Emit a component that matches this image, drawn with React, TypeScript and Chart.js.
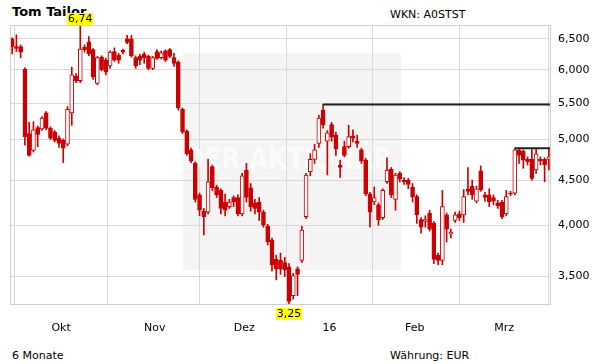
import React, { useEffect, useRef } from 'react';
import { Chart, registerables } from 'chart.js';
Chart.register(...registerables);

// Trading-day candles (Sep 15, 2015 .. Mar 15, 2016), values in EUR
const opens = [
  6.50, 6.37, 6.37, 6.01, 5.08, 4.86, 5.16, 5.14, 5.36, 5.15,
  5.10, 5.02, 4.99, 4.94, 5.36, 5.90, 5.83, 6.36, 6.45, 6.32,
  5.79, 6.20, 6.15, 6.06, 6.29, 6.23, 6.31, 6.50, 6.50, 6.19,
  6.21, 6.25, 6.21, 6.02, 6.29, 6.19, 6.30, 6.32, 6.19, 6.12,
  5.41, 5.11, 4.87, 4.70, 4.33, 4.15, 4.14, 4.66, 4.42, 4.38,
  4.25, 4.20, 4.30, 4.30, 4.12, 4.62, 4.41, 4.24, 4.25, 4.14,
  3.99, 3.85, 3.66, 3.65, 3.63, 3.59, 3.33, 3.57, 3.65, 4.09,
  4.60, 4.75, 4.95, 5.40, 4.98, 5.20, 5.06, 4.68, 4.91, 4.91,
  5.05, 4.98, 4.87, 4.74, 4.34, 4.25, 4.22, 4.08, 4.48, 4.63,
  4.28, 4.58, 4.50, 4.50, 4.42, 4.31, 4.06, 4.04, 4.13, 4.02,
  3.70, 3.65, 4.11, 3.91, 4.05, 4.12, 4.11, 4.40, 4.43, 4.26,
  4.61, 4.33, 4.33, 4.30, 4.24, 4.25, 4.12, 4.35, 4.35, 4.87,
  4.85, 4.75, 4.75, 4.62, 4.75, 4.75, 4.75,
];
const highs = [
  6.52, 6.57, 6.40, 6.03, 5.23, 5.24, 5.18, 5.31, 5.38, 5.17,
  5.12, 5.05, 5.01, 5.45, 6.04, 5.94, 6.74, 6.40, 6.54, 6.34,
  6.21, 6.22, 6.18, 6.30, 6.35, 6.26, 6.33, 6.56, 6.56, 6.22,
  6.25, 6.28, 6.23, 6.21, 6.32, 6.30, 6.32, 6.34, 6.26, 6.14,
  5.43, 5.13, 4.89, 4.72, 4.35, 4.18, 4.75, 4.68, 4.44, 4.40,
  4.34, 4.28, 4.32, 4.33, 4.58, 4.70, 4.46, 4.28, 4.30, 4.16,
  4.01, 3.87, 3.70, 3.72, 3.68, 3.62, 3.53, 3.59, 3.99, 4.58,
  4.82, 4.94, 5.33, 5.48, 5.12, 5.23, 5.10, 4.74, 4.98, 5.19,
  5.13, 5.06, 4.89, 4.76, 4.36, 4.42, 4.24, 4.40, 4.77, 4.65,
  4.58, 4.60, 4.53, 4.52, 4.46, 4.33, 4.08, 4.10, 4.16, 4.04,
  3.72, 4.38, 4.13, 3.96, 4.14, 4.15, 4.39, 4.65, 4.50, 4.43,
  4.67, 4.36, 4.40, 4.33, 4.27, 4.27, 4.38, 4.37, 4.89, 4.89,
  4.87, 4.78, 4.89, 4.89, 4.78, 4.77, 4.89,
];
const lows = [
  6.25, 6.29, 6.19, 4.93, 4.79, 4.84, 4.91, 5.12, 5.13, 5.00,
  4.97, 4.90, 4.71, 4.92, 5.19, 5.80, 5.80, 6.28, 6.22, 5.85,
  5.77, 5.98, 5.92, 6.02, 6.13, 6.10, 6.25, 6.42, 6.20, 6.02,
  6.08, 6.10, 6.00, 6.00, 6.16, 6.17, 6.13, 6.19, 6.05, 5.40,
  5.08, 4.80, 4.71, 4.25, 4.10, 3.90, 4.12, 4.38, 4.30, 4.12,
  4.10, 4.18, 4.20, 4.10, 4.10, 4.25, 4.15, 4.12, 4.05, 3.98,
  3.80, 3.55, 3.47, 3.52, 3.50, 3.25, 3.30, 3.33, 3.63, 4.07,
  4.55, 4.70, 4.90, 5.15, 4.56, 4.98, 4.80, 4.53, 4.78, 4.89,
  4.97, 4.90, 4.70, 4.32, 3.98, 4.22, 4.00, 4.06, 4.46, 4.30,
  4.16, 4.48, 4.45, 4.40, 4.25, 4.02, 3.92, 3.98, 3.94, 3.62,
  3.61, 3.61, 3.83, 3.87, 4.03, 4.05, 4.03, 4.33, 4.28, 4.24,
  4.37, 4.26, 4.20, 4.22, 4.18, 4.07, 4.10, 4.32, 4.33, 4.70,
  4.64, 4.68, 4.50, 4.58, 4.68, 4.48, 4.62,
];
const closes = [
  6.37, 6.34, 6.28, 5.04, 4.80, 5.13, 5.07, 5.29, 5.15, 5.02,
  4.99, 4.95, 4.89, 5.41, 5.92, 5.83, 6.33, 6.32, 6.25, 5.89,
  6.19, 6.00, 5.96, 6.28, 6.15, 6.15, 6.28, 6.44, 6.22, 6.06,
  6.15, 6.19, 6.02, 6.19, 6.18, 6.27, 6.15, 6.21, 6.10, 5.43,
  5.10, 4.82, 4.73, 4.28, 4.16, 4.09, 4.48, 4.41, 4.33, 4.18,
  4.16, 4.25, 4.25, 4.12, 4.55, 4.30, 4.20, 4.18, 4.14, 4.00,
  3.83, 3.61, 3.57, 3.57, 3.56, 3.28, 3.51, 3.52, 3.95, 4.56,
  4.75, 4.87, 5.29, 5.20, 5.09, 5.04, 4.88, 4.65, 4.80, 5.04,
  5.02, 4.95, 4.73, 4.34, 4.14, 4.30, 4.06, 4.38, 4.62, 4.33,
  4.56, 4.51, 4.48, 4.45, 4.31, 4.11, 3.98, 4.06, 3.96, 3.66,
  3.65, 4.20, 3.96, 3.93, 4.11, 4.08, 4.31, 4.37, 4.33, 4.40,
  4.39, 4.30, 4.25, 4.26, 4.21, 4.09, 4.31, 4.34, 4.87, 4.80,
  4.74, 4.72, 4.52, 4.82, 4.73, 4.68, 4.78,
];

const monthStartIdx = [12, 34, 55, 75, 95, 116];
const monthLabels = ['Okt', 'Nov', 'Dez', '16', 'Feb', 'Mrz'];
const yTickValues = [3.5, 4, 4.5, 5, 5.5, 6, 6.5];
const resistLevels = [5.48, 4.89];
const resistStartIdx = [73, 118];

const RED = '#cc0000';
const FONT = "'DejaVu Sans', Verdana, sans-serif";

export default function App() {
  const ref = useRef<HTMLCanvasElement>(null);

  useEffect(() => {
    document.body.style.margin = '0';
    const canvas = ref.current;
    if (!canvas) return;
    const n = opens.length;
    const ids = opens.map((_, i) => i);
    const xMin = -0.5;
    const xMax = n - 0.5;
    const yMin = Math.min(...lows);
    const yMax = Math.max(...highs);
    const rising = (i: number) => closes[i] >= opens[i];

    const bodies = ids.map((i) => ({ x: i, y: [opens[i], closes[i]] }));
    const wicks = ids.map((i) => ({ x: i, y: [lows[i], highs[i]] }));

    const lineSets = resistLevels.map((lv, k) => ({
      type: 'line' as const,
      data: [
        { x: resistStartIdx[k], y: lv },
        { x: xMax, y: lv },
      ],
      borderColor: '#222222',
      borderWidth: 2,
      pointRadius: 0,
      fill: false,
      order: -1,
    }));

    const backdrop = {
      id: 'backdrop',
      beforeDraw(chart: any) {
        const { ctx, chartArea: a } = chart;
        const w = a.right - a.left;
        const h = a.bottom - a.top;
        ctx.save();
        ctx.fillStyle = '#f4f4f4';
        ctx.fillRect(a.left + 0.32 * w, a.top + 0.1 * h, 0.403 * w, 0.775 * h);
        ctx.restore();
      },
      beforeDatasetsDraw(chart: any) {
        const { ctx, chartArea: a } = chart;
        const w = a.right - a.left;
        const h = a.bottom - a.top;
        ctx.save();
        ctx.fillStyle = 'rgba(255,255,255,0.6)';
        ctx.font = `bold 30px ${FONT}`;
        const txt = 'DER AKTIONÄR';
        const tw = ctx.measureText(txt).width;
        const target = 0.385 * w;
        ctx.translate(a.left + 0.322 * w, a.top + 0.485 * h);
        ctx.scale(target / tw, 1);
        ctx.textBaseline = 'middle';
        ctx.fillText(txt, 0, 0);
        ctx.restore();
      },
      afterDatasetsDraw(chart: any) {
        const { ctx, chartArea: a, scales } = chart;
        ctx.save();
        ctx.strokeStyle = '#cfcfcf';
        ctx.lineWidth = 1;
        ctx.strokeRect(a.left + 0.5, a.top + 0.5, a.right - a.left - 1, a.bottom - a.top - 1);
        ctx.font = `11px ${FONT}`;
        ctx.textAlign = 'center';
        ctx.textBaseline = 'middle';
        const iMax = highs.indexOf(yMax);
        const iMin = lows.indexOf(yMin);
        const fmt = (v: number) => v.toFixed(2).replace('.', ',');
        const drawLabel = (i: number, v: number, above: boolean) => {
          const x = scales.x.getPixelForValue(i);
          const y = scales.y.getPixelForValue(v);
          const t = fmt(v);
          const bw = Math.round(ctx.measureText(t).width) + 2;
          const bh = 12;
          const top = above ? y - bh : y + 3;
          ctx.fillStyle = '#ffff00';
          ctx.fillRect(Math.round(x - bw / 2), Math.round(top), bw, bh);
          ctx.fillStyle = '#000';
          ctx.fillText(t, x, top + bh / 2 + 0.5);
        };
        drawLabel(iMax, yMax, true);
        drawLabel(iMin, yMin, false);
        ctx.restore();
      },
    };

    const chart = new Chart(canvas, {
      type: 'bar',
      data: {
        datasets: [
          {
            type: 'bar',
            data: bodies as any,
            barThickness: 4,
            borderWidth: 1,
            borderSkipped: false,
            minBarLength: 1,
            grouped: false,
            backgroundColor: (c: any) => (rising(c.dataIndex) ? '#ffffff' : RED),
            borderColor: RED,
            order: 0,
          } as any,
          {
            type: 'bar',
            data: wicks as any,
            barThickness: 1,
            borderWidth: 0,
            grouped: false,
            backgroundColor: RED,
            order: 1,
          } as any,
          ...(lineSets as any[]),
        ],
      },
      options: {
        responsive: false,
        animation: false,
        devicePixelRatio: 1,
        layout: { padding: { left: 10, top: 25, right: 0, bottom: 0 } },
        plugins: {
          legend: { display: false },
          tooltip: { enabled: false },
        },
        scales: {
          x: {
            type: 'linear',
            min: xMin,
            max: xMax,
            offset: false,
            grid: { color: '#d9d9d9', drawTicks: false },
            border: { display: false },
            afterBuildTicks: (s: any) => {
              s.ticks = monthStartIdx.map((i) => ({ value: i - 0.5 }));
            },
            afterFit: (s: any) => {
              s.height = 59;
            },
            ticks: {
              autoSkip: false,
              maxRotation: 0,
              padding: 17,
              color: '#000',
              font: { family: FONT, size: 11 },
              callback: (v: any) => {
                const k = monthStartIdx.findIndex((i) => Math.abs(i - 0.5 - Number(v)) < 1e-6);
                return k >= 0 ? monthLabels[k] : '';
              },
            },
          },
          y: {
            type: 'logarithmic',
            position: 'right',
            min: yMin,
            max: yMax,
            grid: { color: '#d9d9d9', drawTicks: false },
            border: { display: false },
            afterBuildTicks: (s: any) => {
              s.ticks = yTickValues.map((v) => ({ value: v }));
            },
            afterFit: (s: any) => {
              s.width = 60;
            },
            ticks: {
              padding: 7,
              color: '#000',
              font: { family: FONT, size: 11 },
              callback: (v: any) => Number(v).toFixed(3).replace('.', ','),
            },
          },
        },
      } as any,
      plugins: [backdrop],
    });

    return () => chart.destroy();
  }, []);

  const txt: React.CSSProperties = {
    position: 'absolute',
    fontFamily: FONT,
    fontSize: 11,
    lineHeight: 1,
    color: '#000',
    whiteSpace: 'nowrap',
  };

  return (
    <div style={{ position: 'relative', width: 611, height: 364, background: '#fff', overflow: 'hidden' }}>
      <div style={{ ...txt, left: 12, top: 5, fontSize: 13, fontWeight: 'bold' }}>Tom Tailor</div>
      <div style={{ ...txt, left: 390, top: 9 }}>WKN: A0STST</div>
      <div style={{ ...txt, left: 12, top: 350 }}>6 Monate</div>
      <div style={{ ...txt, left: 390, top: 350 }}>Währung: EUR</div>
      <canvas
        ref={ref}
        width={611}
        height={364}
        style={{ position: 'absolute', left: 0, top: 0, width: 611, height: 364 }}
      />
    </div>
  );
}
